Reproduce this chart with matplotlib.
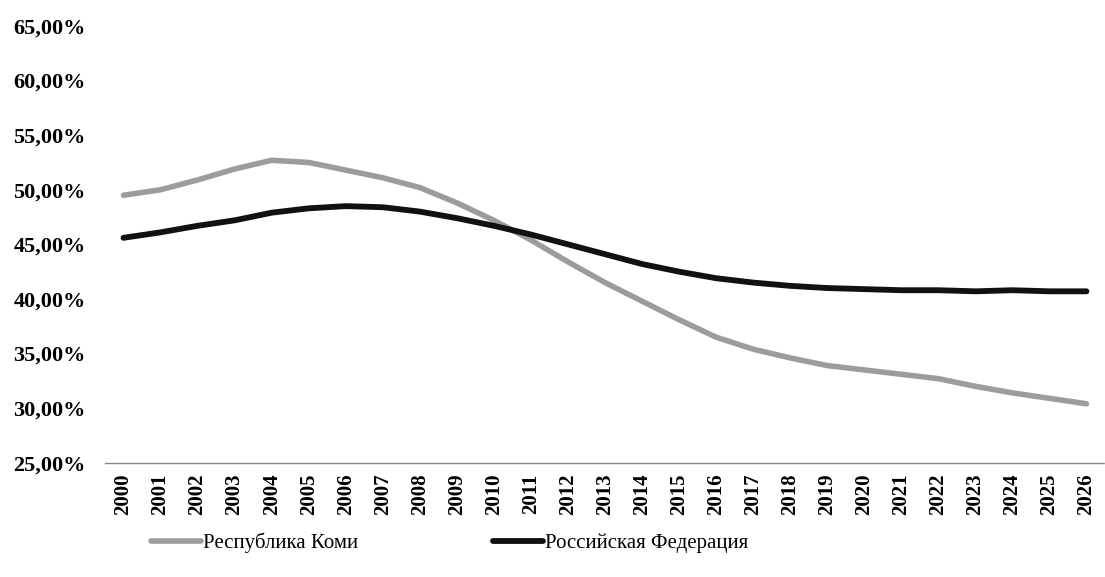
import numpy as np
import matplotlib
matplotlib.use("Agg")
import matplotlib.pyplot as plt
import matplotlib.ticker as tick

years = [str(y) for y in range(2000, 2027)]

komi = [49.5, 50.0, 50.9, 51.9, 52.7, 52.5, 51.8, 51.1, 50.2, 48.8, 47.2, 45.4, 43.4,
        41.5, 39.8, 38.1, 36.5, 35.4, 34.6, 33.9, 33.5, 33.1, 32.7, 32.0, 31.4, 30.9, 30.4]
rf = [45.6, 46.1, 46.7, 47.2, 47.9, 48.3, 48.5, 48.4, 48.0, 47.4, 46.7, 45.9, 45.0,
      44.1, 43.2, 42.5, 41.9, 41.5, 41.2, 41.0, 40.9, 40.8, 40.8, 40.7, 40.8, 40.7, 40.7]

plt.rcParams['font.family'] = ['Liberation Serif', 'DejaVu Serif']

fig = plt.figure(figsize=(11.05, 5.77), dpi=100)
ax = fig.add_axes([0.095, 0.198, 0.905, 0.757])

x = np.arange(len(years))
ax.plot(x, komi, color='#9c9c9c', linewidth=4.0, solid_capstyle='round', label='Республика Коми')
ax.plot(x, rf, color='#111111', linewidth=4.2, solid_capstyle='round', label='Российская Федерация')

ax.set_xlim(-0.5, len(years) - 0.5)
ax.set_ylim(25, 65)
ax.yaxis.set_major_locator(tick.MultipleLocator(5))
ax.yaxis.set_major_formatter(tick.FuncFormatter(lambda v, p: f"{v:.2f}".replace('.', ',') + '%'))
ax.set_xticks(x)
ax.set_xticklabels(years, rotation=90, fontsize=15, fontweight='bold')
for lab in ax.get_yticklabels():
    lab.set_fontsize(16)
    lab.set_fontweight('bold')
ax.tick_params(axis='both', length=0)
ax.tick_params(axis='y', pad=14)
ax.tick_params(axis='x', pad=8)

for s in ['top', 'right', 'left']:
    ax.spines[s].set_visible(False)
ax.spines['bottom'].set_color('#888888')
ax.spines['bottom'].set_linestyle((0, (1, 1)))
ax.spines['bottom'].set_linewidth(1.0)

fig.legend(*ax.get_legend_handles_labels(), loc='center', bbox_to_anchor=(0.407, 0.059),
           ncol=2, frameon=False, fontsize=15, handlelength=2.4, handletextpad=0.1,
           columnspacing=6.5)

fig.savefig('out.png', dpi=100)
